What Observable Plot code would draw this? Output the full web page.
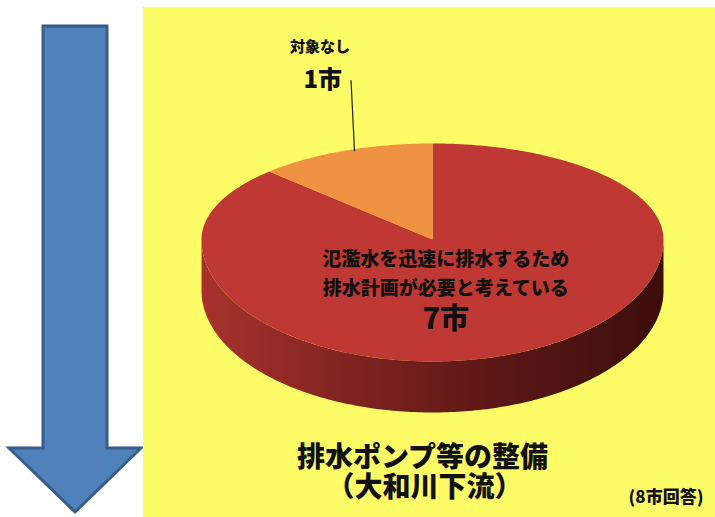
<!DOCTYPE html>
<html><head><meta charset="utf-8">
<script src="https://cdn.jsdelivr.net/npm/d3@7"></script>
<script src="https://cdn.jsdelivr.net/npm/@observablehq/plot@0.6"></script>
<style>
html,body{margin:0;padding:0;background:#fff;}
#wrap{position:relative;width:715px;height:517px;overflow:hidden;background:#fff;}
#panel{position:absolute;left:143px;top:7px;width:572px;height:510px;background:#fdfc66;}
#arrow{position:absolute;left:0;top:0;}
#chart{position:absolute;left:0;top:0;}
</style></head>
<body>
<div id="wrap">
  <svg id="arrow" width="145" height="517" viewBox="0 0 145 517">
    <path d="M43,26 L107,26 L107,448 L141,448 L75,512 L9,448 L43,448 Z" fill="#4f81bd" stroke="#385d8a" stroke-width="3" stroke-linejoin="miter"/>
  </svg>
  <div id="panel"></div>
  <div id="chart"></div>
</div>
<script>
// ---- data ----
const categories = ["氾濫水を迅速に排水するため\n排水計画が必要と考えている", "対象なし"];
const values = [7, 1];
const countLabels = ["7市", "1市"];
const sliceColors = ["#bf3833", "#ef9241"];
const titleLines = ["排水ポンプ等の整備", "（大和川下流）"];
const note = "(8市回答)";

// ---- 3D pie geometry (unit ellipse, drawn through Plot scales) ----
const kTop = 0.787;   // perspective squash of back half
const depth = 0.418;  // thickness of pie
const pt = (a, r = 1) => {
  const c = Math.cos(a);
  return {x: r * Math.sin(a), y: r * c * (c > 0 ? kTop : 1)};
};
const arcs = d3.pie().sort(null)(values);
const slices = [];
arcs.forEach((a, i) => {
  const n = Math.max(8, Math.ceil((a.endAngle - a.startAngle) / 0.01));
  slices.push({id: i, x: 0, y: 0, color: sliceColors[i]});
  for (let k = 0; k <= n; k++) {
    const p = pt(a.startAngle + (a.endAngle - a.startAngle) * k / n);
    slices.push({id: i, ...p, color: sliceColors[i]});
  }
});
// visible front side (from 90° to 270°)
const side = [];
{
  const n = 200, a0 = Math.PI / 2, a1 = 3 * Math.PI / 2;
  for (let k = 0; k <= n; k++) side.push(pt(a0 + (a1 - a0) * k / n));
  for (let k = n; k >= 0; k--) { const p = pt(a0 + (a1 - a0) * k / n); side.push({x: p.x, y: p.y - depth}); }
}
// label anchors
const mid = arcs.map(a => (a.startAngle + a.endAngle) / 2);
const mainAnchor = [{...pt(mid[0], 0.15), cat: categories[0], cnt: countLabels[0]}];
const edge1 = pt(mid[1], 1);
const leader = [{x: edge1.x + 0.045, y: edge1.y}, {x: edge1.x + 0.03, y: edge1.y + 0.576}];
const smallAnchor = [{x: leader[1].x, y: leader[1].y, cat: categories[1], cnt: countLabels[1]}];

const FONT = "'Noto Sans CJK JP','Noto Sans CJK SC',sans-serif";
const txt = {fontFamily: FONT, fontWeight: 900, fill: "#111"};

const plot = Plot.plot({
  width: 715, height: 517,
  margin: 0,
  style: {background: "transparent", overflow: "visible"},
  x: {domain: [-1, 1], range: [201, 663], axis: null},
  y: {domain: [1, -1], range: [117, 361], axis: null},
  marks: [
    Plot.line(side, {x: "x", y: "y", curve: "linear-closed", fill: "url(#sideGrad)", stroke: "none"}),
    Plot.line(slices, {x: "x", y: "y", z: "id", curve: "linear-closed", fill: "color", stroke: "none"}),
    Plot.line(leader, {x: "x", y: "y", stroke: "#222", strokeWidth: 1.2}),
    Plot.text(mainAnchor, {x: "x", y: "y", text: "cat", fontSize: 19, lineHeight: 1.5, dy: 15, ...txt}),
    Plot.text(mainAnchor, {x: "x", y: "y", text: "cnt", fontSize: 29, dy: 63, ...txt}),
    Plot.text(smallAnchor, {x: "x", y: "y", text: "cnt", fontSize: 24, textAnchor: "end", dx: -9, ...txt}),
    Plot.text(smallAnchor, {x: "x", y: "y", text: "cat", fontSize: 15, dx: -31, dy: -33, ...txt}),
    Plot.text([titleLines[0]], {x: () => 0, frameAnchor: "bottom", lineAnchor: "middle", text: d => d, fontSize: 28, dx: -10, dy: -59, ...txt}),
    Plot.text([titleLines[1]], {x: () => 0, frameAnchor: "bottom", lineAnchor: "middle", text: d => d, fontSize: 28, dx: -8, dy: -29, ...txt}),
    Plot.text([note], {frameAnchor: "bottom-right", lineAnchor: "middle", text: d => d, fontSize: 17, textAnchor: "end", dx: -12, dy: -20, ...txt}),
  ]
});
// gradient definition for the pie's side wall
const ns = "http://www.w3.org/2000/svg";
const defs = document.createElementNS(ns, "defs");
const lg = document.createElementNS(ns, "linearGradient");
lg.setAttribute("id", "sideGrad");
lg.setAttribute("x1", "0"); lg.setAttribute("x2", "1"); lg.setAttribute("y1", "0"); lg.setAttribute("y2", "0");
[["0", "#a8322d"], ["0.35", "#7c221f"], ["0.65", "#5a1715"], ["1", "#3c0e0c"]].forEach(([o, c]) => {
  const s = document.createElementNS(ns, "stop");
  s.setAttribute("offset", o); s.setAttribute("stop-color", c);
  lg.appendChild(s);
});
defs.appendChild(lg);
plot.insertBefore(defs, plot.firstChild);
document.getElementById("chart").appendChild(plot);
</script>
</body></html>
